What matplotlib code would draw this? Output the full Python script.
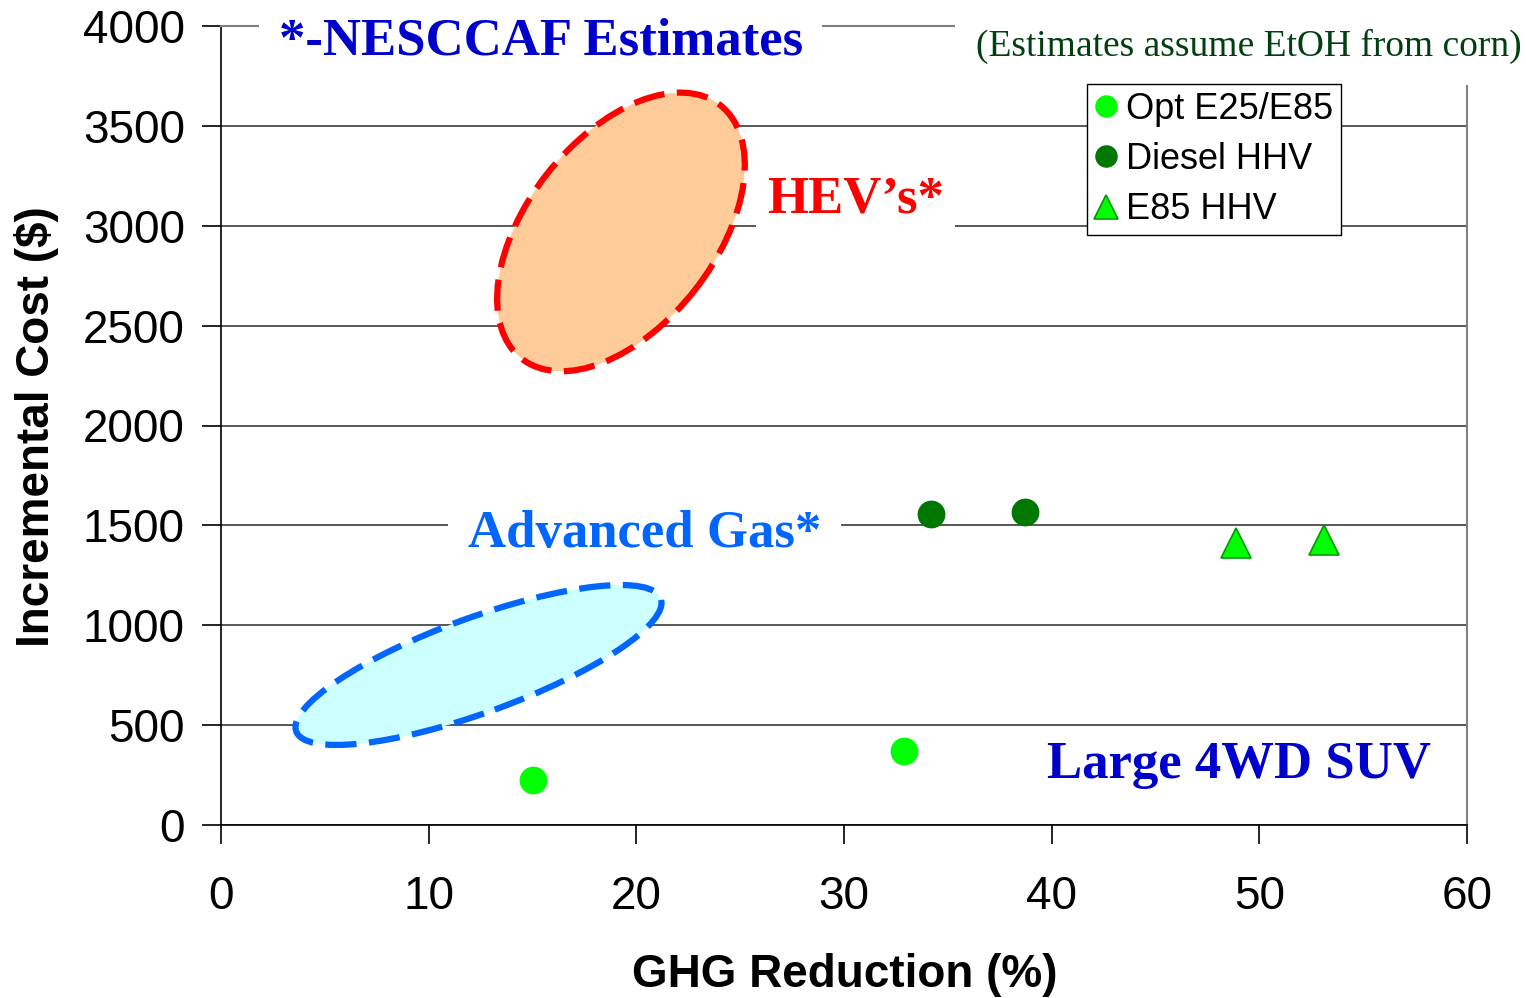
import matplotlib
matplotlib.use("Agg")
import matplotlib.pyplot as plt
from matplotlib.patches import Ellipse
from matplotlib.transforms import ScaledTranslation

# ---- data ----
opt_x = [15.0, 32.9]
opt_y = [225, 370]
diesel_x = [34.2, 38.7]
diesel_y = [1555, 1565]
e85_x = [48.9, 53.1]
e85_y = [1410, 1425]
series_labels = ["Opt E25/E85", "Diesel HHV", "E85 HHV"]
xticks = [0, 10, 20, 30, 40, 50, 60]
yticks = [0, 500, 1000, 1500, 2000, 2500, 3000, 3500, 4000]

W, H, DPI = 1526, 998, 100
fig = plt.figure(figsize=(W / DPI, H / DPI), dpi=DPI)
fig.patch.set_facecolor("white")
ax = fig.add_axes([221 / W, 1 - 825 / H, (1467 - 221) / W, (825 - 26) / H])

SANS = "Liberation Sans"
SERIF = "Liberation Serif"

ax.set_xlim(0, 60)
ax.set_ylim(0, 4000)
ax.set_xticks(xticks)
ax.set_yticks(yticks)
ax.tick_params(axis="both", direction="out", length=14, width=1.2, color="black",
               labelsize=33)
ax.tick_params(axis="x", pad=22)
ax.tick_params(axis="y", pad=12)
for lab in ax.get_xticklabels() + ax.get_yticklabels():
    lab.set_fontfamily(SANS)

ax.yaxis.grid(True, color="#2a2a2a", linewidth=1.1, zorder=0)
ax.set_axisbelow(True)
for s in ["left", "bottom"]:
    ax.spines[s].set_color("black")
    ax.spines[s].set_linewidth(1.2)
for s in ["right", "top"]:
    ax.spines[s].set_color("#808080")
    ax.spines[s].set_linewidth(1.5)

ax.set_xlabel("GHG Reduction (%)", fontsize=33, fontweight="bold", family=SANS, va="center")
ax.xaxis.set_label_coords((845 - 221) / 1246, (825 - 975) / 799)
ax.set_ylabel("Incremental Cost ($)", fontsize=33, fontweight="bold", family=SANS, va="center")
ax.yaxis.set_label_coords((37 - 221) / 1246, (825 - 427) / 799)

# ---- ellipses (sizes in pixels, placed at data centres) ----
def add_ellipse(cx, cy, a_px, b_px, ang, fc, ec):
    e = Ellipse((0, 0), width=2 * a_px / DPI, height=2 * b_px / DPI, angle=ang,
                transform=fig.dpi_scale_trans + ScaledTranslation(cx, cy, ax.transData),
                facecolor=fc, edgecolor=ec, linewidth=4.5,
                linestyle=(0, (5.0, 2.0)), zorder=2)
    e.set_capstyle("butt")
    ax.add_patch(e)

add_ellipse(19.26, 2969, 161, 94, 51.9, "#FFCC99", "#FF0000")
add_ellipse(12.40, 801, 194, 47.5, 20.0, "#CCFFFF", "#0066FF")

# ---- points ----
ax.plot(opt_x, opt_y, linestyle="none", marker="o", ms=19, color="#00FF00",
        mec="#00FF00", label=series_labels[0], zorder=4)
ax.plot(diesel_x, diesel_y, linestyle="none", marker="o", ms=19, color="#007700",
        mec="#007700", label=series_labels[1], zorder=4)
ax.plot(e85_x, e85_y, linestyle="none", marker="^", ms=21, color="#00FF00",
        mec="#009900", mew=1.2, label=series_labels[2], zorder=4)

leg = ax.legend(loc="upper right", bbox_to_anchor=(1341 / W, 1 - 84 / H),
                bbox_transform=fig.transFigure, borderaxespad=0,
                prop={"family": SANS, "size": 26}, frameon=True, fancybox=False,
                framealpha=1, edgecolor="black", markerscale=0.8,
                handlelength=0.6, handletextpad=0.25, borderpad=0.22,
                labelspacing=0.42)
leg.get_frame().set_linewidth(1.0)
leg.set_zorder(7)

# ---- annotations ----
white = dict(facecolor="white", edgecolor="none", pad=14)
ax.text(15.4, 3855, "*-NESCCAF Estimates", family=SERIF, fontweight="bold",
        fontsize=38, color="#0000CC", ha="center", va="baseline", bbox=white,
        zorder=5, clip_on=False)
ax.text(1522 / W, 1 - 56 / H, "(Estimates assume EtOH from corn)", family=SERIF,
        fontsize=27, color="#004010", ha="right", va="baseline",
        transform=fig.transFigure, clip_on=False,
        bbox=dict(facecolor="white", edgecolor="none", pad=15), zorder=5)
ax.text(26.29, 3064, "HEV\u2019s*", family=SERIF, fontweight="bold", fontsize=38,
        color="#FF0000", ha="left", va="baseline",
        bbox=dict(facecolor="white", edgecolor="none", pad=8), zorder=5)
ax.text(11.89, 1392, "Advanced Gas*", family=SERIF, fontweight="bold", fontsize=38,
        color="#0066FF", ha="left", va="baseline",
        bbox=dict(facecolor="white", edgecolor="none", pad=14), zorder=5)
ax.text(39.77, 235, "Large 4WD SUV", family=SERIF, fontweight="bold", fontsize=38,
        color="#0000CC", ha="left", va="baseline", zorder=5)

fig.savefig("out.png", dpi=DPI)
